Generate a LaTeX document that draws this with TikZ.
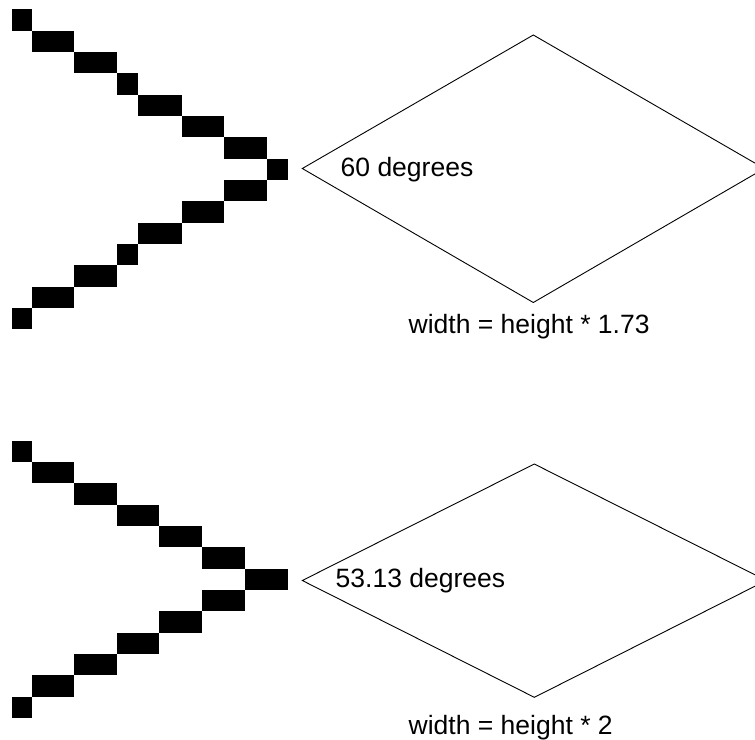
\documentclass[tikz,border=0pt]{standalone}
\usepackage{fontspec}
\setmainfont{Liberation Sans}
\begin{document}
\begin{tikzpicture}[x=1pt,y=-1pt,
  pixel/.style={fill=black},
  rhomb/.style={draw=black,line width=0.9pt,line join=miter},
  lbl/.style={anchor=base west,inner sep=0pt,font=\fontsize{26.5}{30}\selectfont}]
\useasboundingbox (0,0) rectangle (755,739);
\clip (0,0) rectangle (755,739);
% top staircase
\foreach \a/\b/\c/\d in {12/9.3/32/30.7, 32/30.7/74/52, 74/52/116.7/73.3, 116.7/73.3/138.3/94.7,
  138.3/94.7/181.7/116, 181.7/116/224/137.3, 224/137.3/266.7/158.7, 266.7/158.7/288.3/180,
  224/180/266.7/201.3, 181.7/201.3/224/222.7, 138.3/222.7/181.7/244, 116.7/244/138.3/265.3,
  74/265.3/116.7/286.7, 32/286.7/74/308, 12/308/32/329.3}
  \fill[pixel] (\a,\b) rectangle (\c,\d);
% bottom staircase
\foreach \a/\b/\c/\d in {12/440.7/32/462, 32/462/74/483.3, 74/483.3/116.7/504.7, 116.7/504.7/159.3/526,
  159.3/526/202.3/547.3, 202.3/547.3/245/568.7, 245/568.7/288.3/590, 202.3/590/245/611.3,
  159.3/611.3/202.3/632.7, 116.7/632.7/159.3/654, 74/654/116.7/675.3, 32/675.3/74/696.7, 12/696.7/32/718}
  \fill[pixel] (\a,\b) rectangle (\c,\d);
% diamonds
\coordinate (dAl) at (302.3,168.5);
\coordinate (dAt) at (533.3,35);
\coordinate (dAr) at (764.3,168.5);
\coordinate (dAb) at (533.3,302.5);
\draw[rhomb] (dAl) -- (dAt) -- (dAr) -- (dAb) -- cycle;
\coordinate (dBl) at (302.3,580.5);
\coordinate (dBt) at (534.3,464);
\coordinate (dBr) at (766.3,580.5);
\coordinate (dBb) at (534.3,697.3);
\draw[rhomb] (dBl) -- (dBt) -- (dBr) -- (dBb) -- cycle;
% labels
\node[lbl] (angA) at (340.5,176.7) {60 degrees};
\node[lbl] (eqA) at (408.5,333.3) {width = height * 1.73};
\node[lbl] (angB) at (335.5,587.7) {53.13 degrees};
\node[lbl] (eqB) at (408.5,734.3) {width = height * 2};
\end{tikzpicture}
\end{document}
